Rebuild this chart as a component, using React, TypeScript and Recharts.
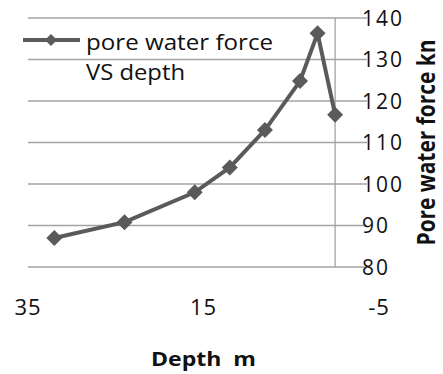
import React from 'react';
import {
  LineChart,
  Line,
  XAxis,
  YAxis,
  CartesianGrid,
  ReferenceLine,
  Legend,
  Label,
} from 'recharts';

// Depth below surface (m) and the pore water force measured there (kN)
const depths = [32, 24, 16, 12, 8, 4, 2, 0];
const poreForce = [87, 90.8, 98, 104, 113, 124.8, 136.3, 116.7];

const depthTicks = [35, 15, -5];
const forceTicks = [80, 90, 100, 110, 120, 130, 140];

const seriesName = 'pore water force VS depth';

const data = depths.map((d, i) => ({ depth: d, force: poreForce[i] }));

const FONT = '"Open Sans", "Noto Sans", sans-serif';
const LINE_COLOR = '#5a5a5a';
const GRID_COLOR = '#a3a3a3';
const TEXT_COLOR = '#111111';

const Diamond = (props: any) => {
  const { cx, cy } = props;
  if (cx == null || cy == null) return null;
  const r = 8;
  return (
    <path
      d={`M${cx},${cy - r} L${cx + r},${cy} L${cx},${cy + r} L${cx - r},${cy} Z`}
      fill={LINE_COLOR}
    />
  );
};

// Right-hand value labels; the short white strip hides the grid line
// where it would run into the label.
const ForceTick = (props: any) => {
  const { x, y, payload } = props;
  return (
    <g>
      <rect x={x - 12} y={y - 2} width={14} height={4} fill="#fff" />
      <text
        x={x - 17}
        y={y}
        dy="0.37em"
        textAnchor="start"
        fontFamily={FONT}
        fontSize={21}
        letterSpacing={2}
        fill={TEXT_COLOR}
      >
        {payload.value}
      </text>
    </g>
  );
};

const LegendBox = () => (
  <svg width={300} height={90} style={{ display: 'block' }}>
    <line x1={23} y1={40} x2={80} y2={40} stroke={LINE_COLOR} strokeWidth={4} />
    <path d="M51,34 L57,40 L51,46 L45,40 Z" fill={LINE_COLOR} />
    <text
      x={86}
      y={50}
      fontFamily={FONT}
      fontSize={21}
      fill={TEXT_COLOR}
      textLength={187}
      lengthAdjust="spacingAndGlyphs"
    >
      pore water force
    </text>
    <text
      x={86}
      y={80}
      fontFamily={FONT}
      fontSize={21}
      fill={TEXT_COLOR}
      textLength={99}
      lengthAdjust="spacingAndGlyphs"
    >
      VS depth
    </text>
  </svg>
);

const DepthTitle = (props: any) => {
  const { viewBox } = props;
  const cx = viewBox.x + viewBox.width / 2;
  const by = viewBox.y + viewBox.height - 8;
  return (
    <text
      x={cx}
      y={by}
      textAnchor="middle"
      fontFamily={FONT}
      fontWeight={700}
      fontSize={20}
      fill={TEXT_COLOR}
      textLength={105}
      lengthAdjust="spacingAndGlyphs"
      style={{ whiteSpace: 'pre' }}
    >
      {'Depth  m'}
    </text>
  );
};

const ForceTitle = (props: any) => {
  const { viewBox } = props;
  const x = viewBox.x + viewBox.width - 8;
  const y = viewBox.y + viewBox.height / 2;
  return (
    <text
      x={x}
      y={y}
      transform={`rotate(-90 ${x} ${y})`}
      textAnchor="middle"
      fontFamily={FONT}
      fontWeight={700}
      fontSize={25}
      fill={TEXT_COLOR}
      textLength={206}
      lengthAdjust="spacingAndGlyphs"
    >
      Pore water force kn
    </text>
  );
};

export default function App() {
  return (
    <div style={{ position: 'absolute', left: 0, top: 0, width: 443, height: 374, background: '#fff' }}>
      <LineChart
        width={443}
        height={374}
        data={data}
        margin={{ top: 18, right: 0, bottom: 0, left: 28 }}
      >
        <CartesianGrid vertical={false} stroke={GRID_COLOR} strokeWidth={1.3} />
        <XAxis
          dataKey="depth"
          type="number"
          domain={[-5, 35]}
          reversed
          ticks={depthTicks}
          interval={0}
          height={107}
          axisLine={false}
          tickLine={false}
          tickSize={0}
          tickMargin={32}
          tick={{ fontSize: 22, fill: TEXT_COLOR, fontFamily: FONT, letterSpacing: 1 }}
        >
          <Label content={<DepthTitle />} />
        </XAxis>
        <YAxis
          orientation="right"
          type="number"
          domain={[80, 140]}
          ticks={forceTicks}
          interval={0}
          width={64}
          axisLine={false}
          tickLine={false}
          tickSize={0}
          tickMargin={0}
          tick={<ForceTick />}
        >
          <Label content={<ForceTitle />} />
        </YAxis>
        <ReferenceLine x={0} stroke={GRID_COLOR} strokeWidth={1.3} />
        <Legend
          layout="horizontal"
          verticalAlign="middle"
          align="center"
          content={<LegendBox />}
          wrapperStyle={{ left: 0, top: 0, width: 300, height: 90 }}
        />
        <Line
          name={seriesName}
          dataKey="force"
          stroke={LINE_COLOR}
          strokeWidth={4}
          dot={<Diamond />}
          activeDot={false}
          isAnimationActive={false}
        />
      </LineChart>
    </div>
  );
}
